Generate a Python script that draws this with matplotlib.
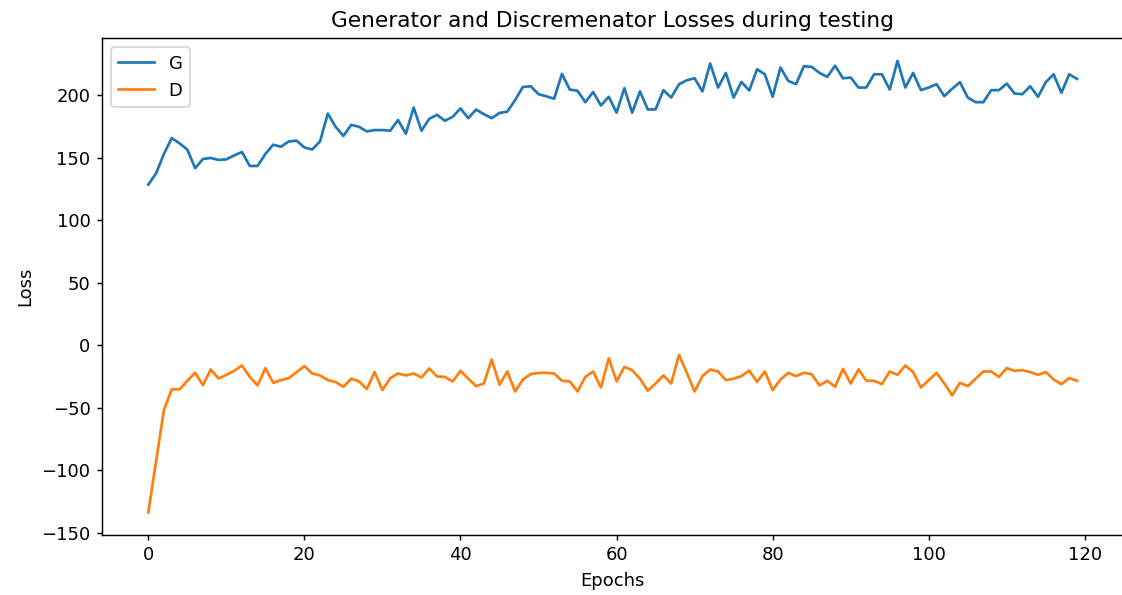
import matplotlib
matplotlib.use("Agg")
import matplotlib.pyplot as plt

# losses, one value per epoch (0..119)
g_losses = [
    128.4, 137.4, 152.9, 165.6, 161.4, 156.4, 141.5, 148.9, 149.7, 148.1,
    148.6, 151.7, 154.5, 143.3, 143.3, 152.9, 160.3, 158.7, 162.9, 163.5,
    158.1, 156.5, 162.9, 185.2, 174.6, 167.3, 176.2, 174.6, 170.9, 172.0,
    172.0, 171.5, 180.0, 169.1, 190.0, 171.5, 181.0, 184.2, 179.4, 182.6,
    189.3, 181.5, 188.4, 184.7, 181.5, 185.7, 186.7, 196.0, 206.5, 207.0,
    200.7, 199.0, 197.0, 217.0, 204.4, 203.4, 194.3, 202.4, 191.7, 198.6,
    185.9, 205.5, 185.9, 202.9, 188.5, 188.5, 203.9, 198.0, 208.6, 211.8,
    213.4, 202.9, 225.2, 206.0, 217.7, 198.0, 210.5, 203.6, 220.6, 216.6,
    198.6, 222.0, 211.3, 208.7, 223.0, 222.5, 217.7, 214.5, 223.5, 213.4,
    214.0, 206.0, 206.0, 216.6, 216.6, 204.4, 227.3, 206.0, 217.7, 203.9,
    206.0, 208.7, 199.1, 205.0, 210.3, 198.0, 194.3, 194.3, 203.9, 203.9,
    209.2, 201.2, 200.7, 207.0, 198.6, 210.3, 216.6, 201.8, 216.6, 212.9,
]

d_losses = [
    -133.7, -92.7, -51.8, -35.3, -35.3, -28.4, -22.0, -31.9, -19.4, -26.6,
    -23.7, -20.5, -16.2, -25.3, -32.2, -18.3, -30.0, -27.9, -26.3, -21.5,
    -16.7, -22.6, -24.2, -27.9, -29.5, -33.2, -26.8, -28.9, -35.1, -21.5,
    -35.9, -26.3, -22.6, -24.2, -22.6, -25.8, -18.6, -25.0, -25.3, -29.0,
    -20.5, -26.8, -32.7, -30.6, -11.4, -31.6, -21.0, -37.0, -27.4, -23.1,
    -22.1, -22.1, -22.6, -28.4, -29.0, -37.0, -25.3, -21.0, -33.8, -10.4,
    -29.0, -17.3, -20.0, -26.8, -36.4, -30.6, -24.2, -30.6, -7.7, -22.1,
    -37.0, -24.7, -19.4, -21.0, -27.9, -26.8, -24.7, -20.3, -29.3, -21.0,
    -35.9, -27.4, -22.1, -24.7, -22.1, -23.1, -32.2, -28.4, -33.2, -18.9,
    -30.6, -19.4, -28.4, -28.4, -31.1, -21.0, -23.7, -16.2, -21.5, -33.8,
    -27.9, -22.1, -30.6, -40.1, -30.0, -32.7, -26.8, -21.0, -21.0, -25.3,
    -18.3, -20.5, -20.0, -21.5, -23.7, -21.5, -27.4, -31.1, -26.3, -28.4,
]

epochs = list(range(len(g_losses)))

DPI = 130
plt.rcParams["xtick.major.size"] = 2.8
plt.rcParams["ytick.major.size"] = 2.8

fig = plt.figure(figsize=(1122 / DPI, 595 / DPI), dpi=DPI)
ax = fig.add_axes([0.0908, 0.1008, 0.9105, 0.8348])

ax.plot(epochs, g_losses, label="G")
ax.plot(epochs, d_losses, label="D")

ax.set_title("Generator and Discremenator Losses during testing")
ax.set_xlabel("Epochs")
ax.set_ylabel("Loss")
ax.legend(loc="upper left")

fig.savefig("out.png", dpi=DPI)
plt.close(fig)
